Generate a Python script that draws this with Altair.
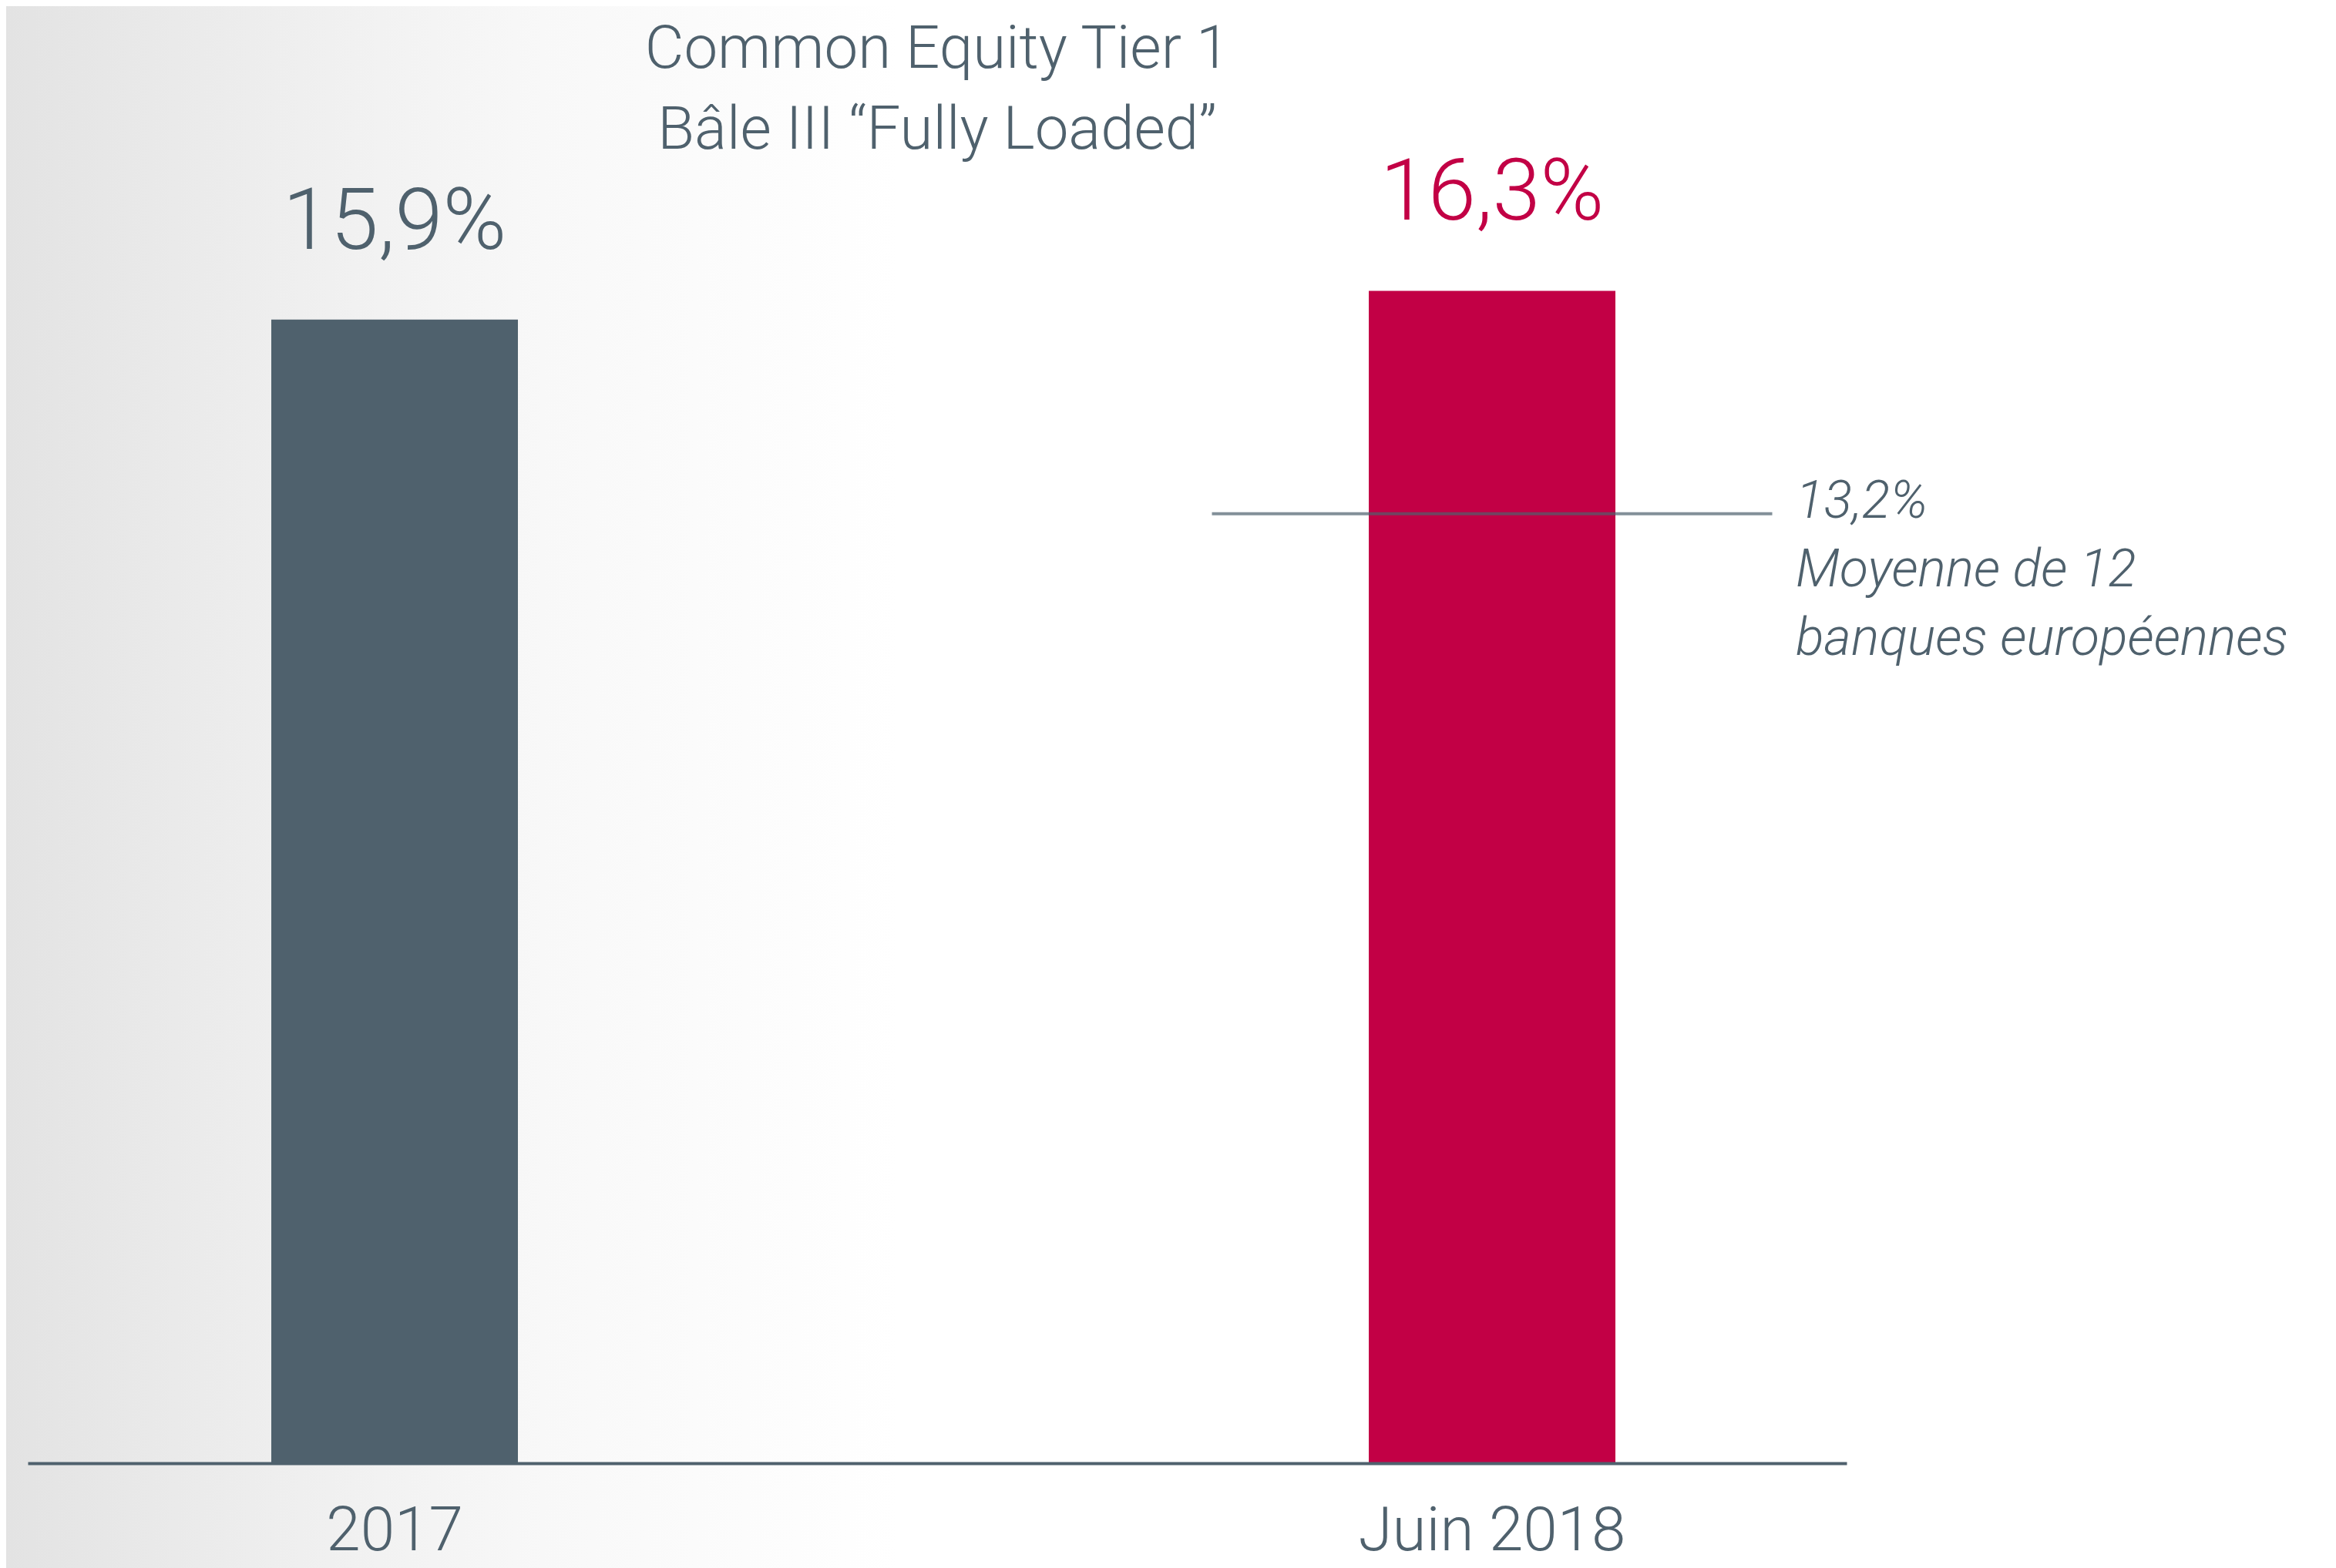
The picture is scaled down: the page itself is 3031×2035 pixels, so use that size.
import altair as alt
import pandas as pd

# ---- data ----
categories = ["2017", "Juin 2018"]
values = [15.9, 16.3]
value_labels = ["15,9%", "16,3%"]
bar_colors = ["#4F616D", "#C20045"]
avg_category = "Juin 2018"
avg_value = 13.2
avg_text = ["13,2%", "Moyenne de 12", "banques européennes"]
title_lines = ["Common Equity Tier 1", "Bâle III \u201cFully Loaded\u201d"]

SLATE = "#4F616D"
FONT = "Roboto"

bars_df = pd.DataFrame({"cat": categories, "value": values, "label": value_labels})
avg_df = pd.DataFrame({"cat": [avg_category], "value": [avg_value], "text": [avg_text]})
bg_df = pd.DataFrame({"k": [0]})

PLOT_W, PLOT_H = 2360, 1689
Y_MAX = 18.093

x_enc = alt.X(
    "cat:N",
    sort=categories,
    scale=alt.Scale(domain=categories, paddingInner=0.7753, paddingOuter=0.2163, align=0.513),
    axis=alt.Axis(
        title=None, labelAngle=0, ticks=False, tickSize=0, grid=False,
        domainColor=SLATE, domainWidth=4, zindex=1, labelLimit=0,
        labelFont=FONT, labelFontSize=80, labelFontWeight=300, labelColor=SLATE, labelPadding=49,
    ),
)
y_scale = alt.Scale(domain=[0, Y_MAX], nice=False, zero=True)

background = alt.Chart(bg_df).mark_rect(
    color=alt.Gradient(
        gradient="linear",
        stops=[
            alt.GradientStop(color="#e3e3e3", offset=0),
            alt.GradientStop(color="#eeeeee", offset=0.3),
            alt.GradientStop(color="#f8f8f8", offset=0.6),
            alt.GradientStop(color="#ffffff", offset=1),
        ],
        x1=0, y1=0, x2=1, y2=0,
    )
).encode(
    x=alt.value(-28), x2=alt.value(1130),
    y=alt.value(-202), y2=alt.value(1825),
)

bars = alt.Chart(bars_df).mark_bar(size=320).encode(
    x=x_enc,
    y=alt.Y("value:Q", scale=y_scale, axis=None),
    color=alt.Color("cat:N", scale=alt.Scale(domain=categories, range=bar_colors), legend=None),
)

labels = alt.Chart(bars_df).mark_text(
    font=FONT, fontSize=112, fontWeight=300, baseline="alphabetic", align="center", dy=-92,
).encode(
    x=alt.X("cat:N", sort=categories),
    y=alt.Y("value:Q"),
    text="label:N",
    color=alt.Color("cat:N", scale=alt.Scale(domain=categories, range=bar_colors), legend=None),
)

avg_line = alt.Chart(avg_df).mark_tick(size=727, thickness=4, color=SLATE, orient="horizontal").encode(
    x=alt.X("cat:N", sort=categories),
    y=alt.Y("value:Q"),
)

avg_label = alt.Chart(avg_df).mark_text(
    font=FONT, fontSize=68, fontWeight=300, fontStyle="italic", align="left", baseline="top",
    dx=394, dy=-49, lineHeight=89, color=SLATE,
).encode(
    x=alt.X("cat:N", sort=categories),
    y=alt.Y("value:Q"),
    text="text",
)

chart = alt.layer(background, bars, labels, avg_line, avg_label).properties(
    width=PLOT_W,
    height=PLOT_H,
    title=alt.TitleParams(
        text=title_lines, font=FONT, fontSize=78, fontWeight=300, color=SLATE,
        anchor="middle", frame="group", lineHeight=105, offset=-201,
    ),
    padding={"left": 28, "right": 612, "top": 202, "bottom": 136},
    autosize=alt.AutoSizeParams(type="none"),
    background="#ffffff",
).configure_view(stroke=None)

chart.save("out.html", embed_options={"renderer": "svg", "actions": False})
